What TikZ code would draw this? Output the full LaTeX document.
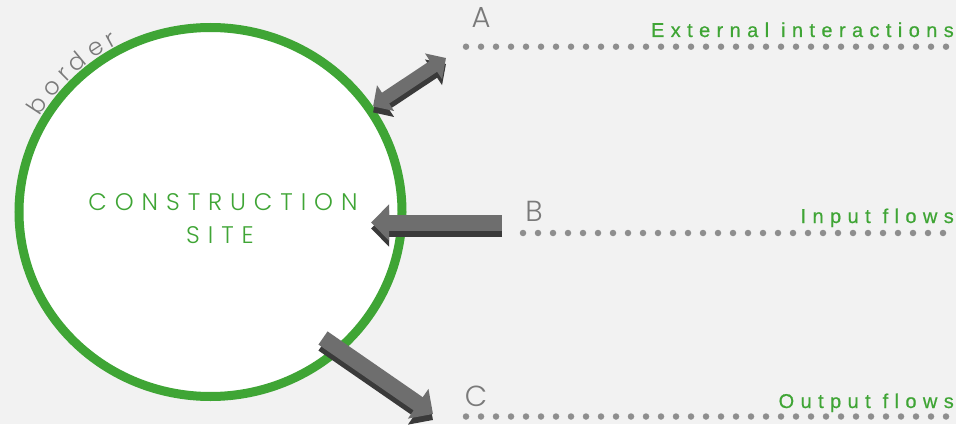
\documentclass[tikz,border=0pt]{standalone}
\usepackage{fontspec}
\setmainfont{Liberation Sans}
\newfontfamily\flowfont[LetterSpace=32,FakeBold=0.6]{Liberation Sans}
\newfontfamily\thinfont{Poppins Light}
\newfontfamily\sitefont[LetterSpace=33]{Poppins Light}
\usetikzlibrary{arrows.meta,shapes.geometric,decorations.text}
\definecolor{bggray}{HTML}{F2F2F2}
\definecolor{sitegreen}{HTML}{3FA535}
\definecolor{dotgray}{HTML}{8E8E8E}
\definecolor{lettergray}{HTML}{7A7A7A}
\definecolor{arrowface}{HTML}{6E6E6E}
\definecolor{arrowside}{HTML}{3A3A3A}
\begin{document}
\begin{tikzpicture}[x=1pt,y=1pt,
  dots/.style={draw=dotgray, line width=6.5pt, line cap=round, dash pattern=on 0pt off 15pt},
  flow/.style={anchor=base east, inner sep=0pt, text=sitegreen, font=\flowfont\fontsize{20}{20}\selectfont},
  letter/.style={inner sep=0pt, text=lettergray, font=\thinfont\fontsize{29}{29}\selectfont},
  blockarrow/.style={line width=16pt, -{Triangle[width=35pt,length=18pt]}},
  dblarrow/.style={line width=13pt, {Triangle[width=30pt,length=15pt]}-{Triangle[width=30pt,length=15pt]}}]

  \fill[bggray] (0,0) rectangle (956,424);
  \useasboundingbox (0,0) rectangle (956,424);

  % dotted rows
  \coordinate (a-start) at (466,377.3);
  \coordinate (a-end) at (956,377.3);
  \coordinate (b-start) at (523,191);
  \coordinate (b-end) at (956,191);
  \coordinate (c-start) at (466,7.5);
  \coordinate (c-end) at (956,7.5);
  \draw[dots] (a-start) -- (a-end);
  \draw[dots] (b-start) -- (b-end);
  \draw[dots] (c-start) -- (c-end);

  \node[flow] (ext) at (954,387) {External interactions};
  \node[flow] (inp) at (954,201) {Input flows};
  \node[flow] (outp) at (954,16) {Output flows};

  \node[letter] (A) at (481,406.5) {A};
  \node[letter] (B) at (534,212.5) {B};
  \node[letter] (C) at (476,27.5) {C};

  % the site
  \node[ellipse, draw=sitegreen, fill=white, line width=9pt, inner sep=0pt,
        minimum width=383pt, minimum height=369pt] (site) at (210.5,212) {};
  \node[anchor=base, inner sep=0pt, text=sitegreen, font=\sitefont\fontsize{24}{24}\selectfont] (site-top) at (223,214) {CONSTRUCTION};
  \node[anchor=base, inner sep=0pt, text=sitegreen, font=\sitefont\fontsize{24}{24}\selectfont] (site-bottom) at (220,181) {SITE};

  \path[decorate, decoration={text effects along path, text={border},
        text effects/.cd, text along path, fit text to path,
        characters={text=lettergray, font=\thinfont\fontsize{24}{24}\selectfont}}]
    (site.center) ++(150:197 and 190) arc[start angle=150, end angle=118, x radius=197, y radius=190];

  % flows
  \coordinate (a-tip) at (446,366);
  \coordinate (b-tail) at (502,201.5);
  \coordinate (b-tip) at (371,201.5);
  \coordinate (c-tail) at (323,86);
  \coordinate (c-tip) at (433,10);
  \foreach \col/\dy in {arrowside/-6,arrowface/0}{%
    \draw[dblarrow, draw=\col, transform canvas={yshift=\dy pt}] (site.33) -- (a-tip);
    \draw[blockarrow, draw=\col, transform canvas={yshift=\dy pt}] (b-tail) -- (b-tip);
    \draw[blockarrow, draw=\col, transform canvas={yshift=\dy pt}] (c-tail) -- (c-tip);
  }
\end{tikzpicture}
\end{document}
